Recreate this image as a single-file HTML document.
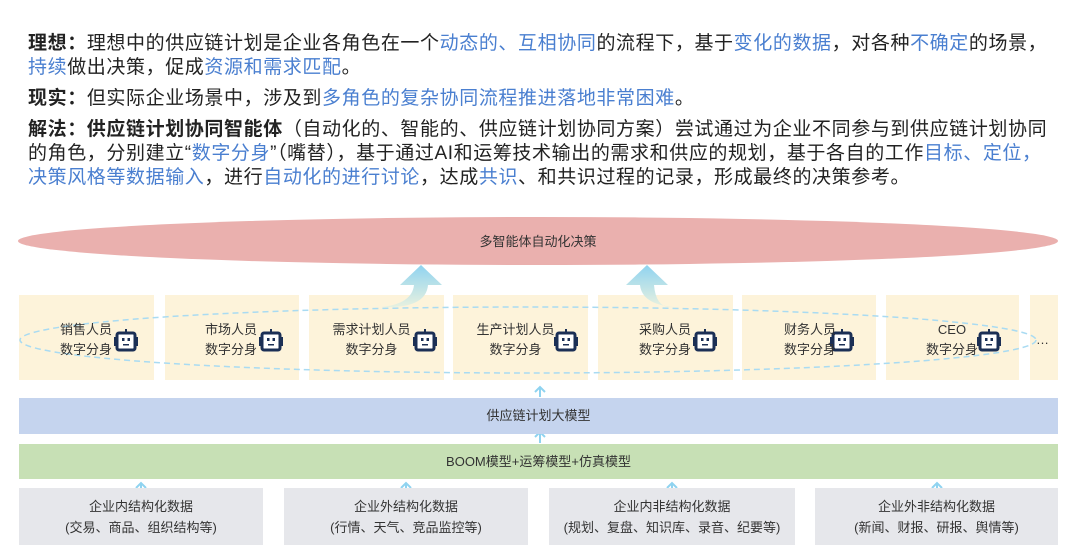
<!DOCTYPE html>
<html><head><meta charset="utf-8"><style>
body{margin:0;width:1080px;height:555px;background:#fff;position:relative;overflow:hidden;font-family:"Liberation Sans","Noto Sans CJK SC",sans-serif;color:#222}
.t{position:absolute;left:28px;font-size:19px;letter-spacing:0.6px;line-height:24px;white-space:nowrap}
.b{color:#4a7fd0}
.a{position:absolute;box-sizing:border-box}
.box{position:absolute;top:295px;height:85px;background:#fdf3da}
.lbl{position:absolute;font-size:13px;line-height:20px;text-align:center;color:#333}
.bar{position:absolute;left:19px;width:1039px;font-size:13px;text-align:center;color:#333}
.g{position:absolute;top:488px;height:57px;background:#e6e7eb;font-size:13px;line-height:21px;text-align:center;color:#333;padding-top:8px;box-sizing:border-box}
</style></head><body>
<div class="t" style="top:32px"><b>理想：</b>理想中的供应链计划是企业各角色在一个<span class="b">动态的、互相协同</span>的流程下，基于<span class="b">变化的数据</span>，对各种<span class="b">不确定</span>的场景，</div>
<div class="t" style="top:56px"><span class="b">持续</span>做出决策，促成<span class="b">资源和需求匹配</span>。</div>
<div class="t" style="top:87px"><b>现实：</b>但实际企业场景中，涉及到<span class="b">多角色的复杂协同流程推进落地非常困难</span>。</div>
<div class="t" style="top:118px"><b>解法：供应链计划协同智能体</b>（自动化的、智能的、供应链计划协同方案）尝试通过为企业不同参与到供应链计划协同</div>
<div class="t" style="top:142px">的角色，分别建立“<span class="b">数字分身</span>”（嘴替），基于通过AI和运筹技术输出的需求和供应的规划，基于各自的工作<span class="b">目标、定位，</span></div>
<div class="t" style="top:166px"><span class="b">决策风格等数据输入</span>，进行<span class="b">自动化的进行讨论</span>，达成<span class="b">共识</span>、和共识过程的记录，形成最终的决策参考。</div>

<div class="box" style="left:19px;width:135px"></div>
<div class="box" style="left:165px;width:134px"></div>
<div class="box" style="left:309px;width:135px"></div>
<div class="box" style="left:453px;width:135px"></div>
<div class="box" style="left:598px;width:135px"></div>
<div class="box" style="left:742px;width:134px"></div>
<div class="box" style="left:886px;width:133px"></div>
<div class="box" style="left:1030px;width:28px"></div>

<svg class="a" style="left:0;top:0" width="1080" height="555">
<defs>
<linearGradient id="gr" x1="0" y1="1" x2="0" y2="0"><stop offset="0" stop-color="#e8f1e0"/><stop offset="1" stop-color="#8fd3f0"/></linearGradient>
<g id="bot"><rect x="3" y="5" width="18" height="17" rx="2" fill="#fff" stroke="#1b2f55" stroke-width="3"/><rect x="11" y="1" width="2" height="4" fill="#1b2f55"/><rect x="0" y="9" width="2" height="9" fill="#1b2f55"/><rect x="22" y="9" width="2" height="9" fill="#1b2f55"/><rect x="8" y="10" width="2.5" height="3" fill="#1b2f55"/><rect x="13.5" y="10" width="2.5" height="3" fill="#1b2f55"/><rect x="9" y="16" width="6" height="1.5" fill="#1b2f55"/></g>
</defs>
<ellipse cx="538" cy="241" rx="520" ry="24" fill="#eab0ae"/>
<text x="538" y="246" font-size="13" text-anchor="middle" fill="#333">多智能体自动化决策</text>
<path d="M381 307 Q412 304 414 285 L400 285 L421 265 L442 285 L428 285 Q426 309 381 307Z" fill="url(#gr)"/>
<path d="M673 307 Q642 304 640 285 L626 285 L647 265 L668 285 L654 285 Q656 309 673 307Z" fill="url(#gr)"/>
<ellipse cx="528" cy="340" rx="508" ry="33" fill="none" stroke="#a9dbf2" stroke-width="1.5" stroke-dasharray="6 4"/>
<use href="#bot" x="114" y="328"/><use href="#bot" x="259" y="328"/><use href="#bot" x="413" y="328"/><use href="#bot" x="554" y="328"/><use href="#bot" x="693" y="328"/><use href="#bot" x="830" y="328"/><use href="#bot" x="977" y="328"/>
<g stroke="#8fd3f0" stroke-width="2" fill="none">
<path d="M540 397V388M535 392L540 387L545 392"/>
<path d="M540 443V432M535 437L540 432L545 437"/>
<path d="M141 495V483M136 488L141 483L146 488"/>
<path d="M406 495V483M401 488L406 483L411 488"/>
<path d="M672 495V483M667 488L672 483L677 488"/>
<path d="M937 495V483M932 488L937 483L942 488"/>
</g>
</svg>

<div class="lbl" style="left:60px;top:320px">销售人员<br>数字分身</div>
<div class="lbl" style="left:205px;top:320px">市场人员<br>数字分身</div>
<div class="lbl" style="left:329px;top:320px;width:85px">需求计划人员<br>数字分身</div>
<div class="lbl" style="left:473px;top:320px;width:85px">生产计划人员<br>数字分身</div>
<div class="lbl" style="left:639px;top:320px">采购人员<br>数字分身</div>
<div class="lbl" style="left:784px;top:320px">财务人员<br>数字分身</div>
<div class="lbl" style="left:926px;top:320px;width:52px">CEO<br>数字分身</div>
<div class="lbl" style="left:1036px;top:330px">…</div>

<div class="bar" style="top:398px;height:36px;line-height:36px;background:#c5d4ee">供应链计划大模型</div>
<div class="bar" style="top:444px;height:35px;line-height:35px;background:#c7e0b5">BOOM模型+运筹模型+仿真模型</div>

<div class="g" style="left:19px;width:244px">企业内结构化数据<br>(交易、商品、组织结构等)</div>
<div class="g" style="left:284px;width:244px">企业外结构化数据<br>(行情、天气、竞品监控等)</div>
<div class="g" style="left:549px;width:246px">企业内非结构化数据<br>(规划、复盘、知识库、录音、纪要等)</div>
<div class="g" style="left:815px;width:243px">企业外非结构化数据<br>(新闻、财报、研报、舆情等)</div>
</body></html>
